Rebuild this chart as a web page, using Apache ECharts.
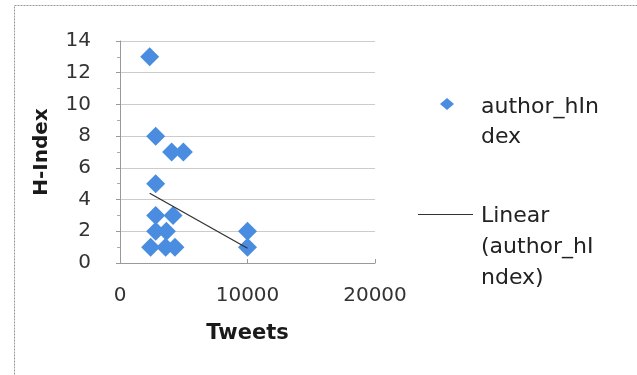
<!DOCTYPE html>
<html><head><meta charset="utf-8">
<script src="https://cdn.jsdelivr.net/npm/echarts@6/dist/echarts.min.js"></script>
<style>html,body{margin:0;padding:0;background:#fff}#c{width:637px;height:375px}</style>
</head><body><div id="c"></div>
<script>
const tweets = [2330, 2800, 4050, 4970, 2800, 2800, 4160, 2800, 3640, 2400, 3580, 4310, 10000, 10000];
const hIndex = [13, 8, 7, 7, 5, 3, 3, 2, 2, 1, 1, 1, 2, 1];
const trendX = [2330, 10000];
const trendY = [4.4, 0.93];
const xTicks = [0, 10000, 20000];
const yTicks = [0, 2, 4, 6, 8, 10, 12, 14];
const seriesName = 'author_hIndex';
const trendName = 'Linear (author_hIndex)';

const pts = tweets.map((x, i) => [x, hIndex[i]]);
const trend = trendX.map((x, i) => [x, trendY[i]]);
const font = '"DejaVu Sans", Verdana, sans-serif';
const blue = '#4A8DE0';
const chart = echarts.init(document.getElementById('c'));
chart.setOption({
  animation: false,
  grid: {left: 120, right: 262, top: 41, bottom: 112, containLabel: false},
  xAxis: {
    type: 'value', min: xTicks[0], max: xTicks[xTicks.length - 1], interval: xTicks[1] - xTicks[0],
    name: 'Tweets', nameLocation: 'middle', nameGap: 60,
    nameTextStyle: {fontFamily: font, fontSize: 21, fontWeight: 'bold', color: '#1a1a1a'},
    axisLine: {show: true, lineStyle: {color: '#999'}},
    axisTick: {show: true, length: 4, inside: true, lineStyle: {color: '#999'}},
    axisLabel: {fontFamily: font, fontSize: 20, color: '#333', margin: 23, formatter: v => String(v)},
    splitLine: {show: false}
  },
  yAxis: {
    type: 'value', min: yTicks[0], max: yTicks[yTicks.length - 1], interval: yTicks[1] - yTicks[0],
    name: 'H-Index', nameLocation: 'middle', nameGap: 68,
    nameTextStyle: {fontFamily: font, fontSize: 20, fontWeight: 'bold', color: '#1a1a1a'},
    axisLine: {show: true, lineStyle: {color: '#999'}},
    axisTick: {show: true, length: 4, lineStyle: {color: '#999'}},
    minorTick: {show: true, splitNumber: 2, length: 3, lineStyle: {color: '#aaa'}},
    axisLabel: {fontFamily: font, fontSize: 20, color: '#333', margin: 29},
    splitLine: {show: true, lineStyle: {color: '#cccccc', width: 1}}
  },
  series: [
    {name: seriesName, type: 'scatter', data: pts, symbol: 'diamond', symbolSize: 19,
     itemStyle: {color: blue, opacity: 1}, z: 3},
    {name: trendName, type: 'line', data: trend, symbol: 'none',
     lineStyle: {color: '#333', width: 1.3}, z: 4}
  ],
  graphic: [
    {type: 'rect', shape: {x: 14.5, y: 5.5, width: 640, height: 380},
     style: {fill: 'none', stroke: '#999', lineWidth: 1, lineDash: [2, 1]}},
    {type: 'polygon', shape: {points: [[447, 98], [454, 104], [447, 110], [440, 104]]}, style: {fill: blue}},
    {type: 'text', left: 481, top: 92, style: {text: 'author_hIn\ndex', font: '22px ' + font, fill: '#222', lineHeight: 30}},
    {type: 'line', shape: {x1: 418, y1: 214.5, x2: 473, y2: 214.5}, style: {stroke: '#333', lineWidth: 1}},
    {type: 'text', left: 481, top: 201, style: {text: 'Linear\n(author_hI\nndex)', font: '22px ' + font, fill: '#222', lineHeight: 31}}
  ]
});
</script></body></html>
